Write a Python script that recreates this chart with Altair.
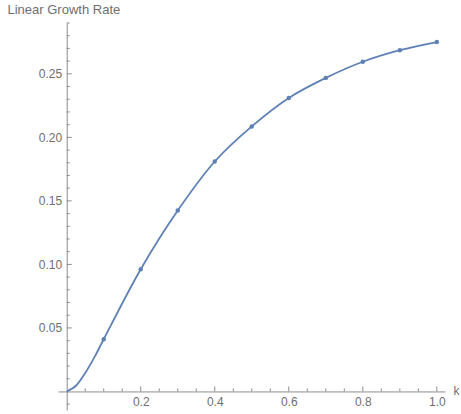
import altair as alt
import pandas as pd

# Sampled growth rates
k_pts = [0.1, 0.2, 0.3, 0.4, 0.5, 0.6, 0.7, 0.8, 0.9, 1.0]
rate_pts = [0.0411, 0.0962, 0.1424, 0.1810, 0.2086, 0.2310, 0.2468, 0.2595, 0.2686, 0.2750]

# Smooth curve through the samples (with extra readings near the origin)
k_curve = [0.0, 0.025, 0.05, 0.075] + k_pts
rate_curve = [0.0, 0.0045, 0.0145, 0.027] + rate_pts

# Axis ticks and labels
x_major = [0.2, 0.4, 0.6, 0.8, 1.0]
x_minor = [0.05, 0.1, 0.15, 0.25, 0.3, 0.35, 0.45, 0.5, 0.55, 0.65, 0.7, 0.75, 0.85, 0.9, 0.95]
y_major = [0.05, 0.10, 0.15, 0.20, 0.25]
y_minor = [-0.01, 0.01, 0.02, 0.03, 0.04, 0.06, 0.07, 0.08, 0.09, 0.11, 0.12, 0.13, 0.14,
           0.16, 0.17, 0.18, 0.19, 0.21, 0.22, 0.23, 0.24, 0.26, 0.27, 0.28, 0.29]

X_DOMAIN = [-0.0235, 1.022]
Y_DOMAIN = [-0.0146, 0.290]
W, H = 387, 387

BLUE = "#5e81b5"
AXIS = "#8c8c8c"
TEXT = "#6e6e6e"
FONT = "Liberation Sans"

# Place the axes so they cross at the origin
x_off = -H * (0 - Y_DOMAIN[0]) / (Y_DOMAIN[1] - Y_DOMAIN[0])
y_off = -W * (0 - X_DOMAIN[0]) / (X_DOMAIN[1] - X_DOMAIN[0])

pts = pd.DataFrame({"k": k_pts, "rate": rate_pts})
curve = pd.DataFrame({"k": k_curve, "rate": rate_curve})

xscale = alt.Scale(domain=X_DOMAIN, nice=False, zero=False)
yscale = alt.Scale(domain=Y_DOMAIN, nice=False, zero=False)

x_axis = alt.Axis(
    orient="bottom", offset=x_off, values=x_major, format=".1f",
    ticks=False, grid=False, domainColor=AXIS, domainWidth=1,
    labelColor=TEXT, labelFont=FONT, labelFontSize=12, labelPadding=5,
    title="k", titleX=453 - 58, titleY=-1, titleAlign="left",
    titleBaseline="middle", titleFont=FONT, titleFontSize=12,
    titleFontWeight="normal", titleColor=TEXT,
)
y_axis = alt.Axis(
    orient="left", offset=y_off, values=y_major, format=".2f",
    ticks=False, grid=False, domainColor=AXIS, domainWidth=1,
    labelColor=TEXT, labelFont=FONT, labelFontSize=12, labelPadding=5,
    title="Linear Growth Rate", titleAngle=0, titleAlign="left",
    titleBaseline="alphabetic", titleX=7 - 58 + y_off, titleY=-10,
    titleFont=FONT, titleFontSize=13, titleFontWeight="normal", titleColor=TEXT,
)

line = alt.Chart(curve).mark_line(color=BLUE, strokeWidth=1.8, interpolate="catmull-rom").encode(
    x=alt.X("k:Q", scale=xscale, axis=x_axis),
    y=alt.Y("rate:Q", scale=yscale, axis=y_axis),
)
dots = alt.Chart(pts).mark_circle(color=BLUE, size=20, opacity=1).encode(
    x=alt.X("k:Q", scale=xscale),
    y=alt.Y("rate:Q", scale=yscale),
)

def xticks(values, length):
    df = pd.DataFrame({"k": values})
    return alt.Chart(df).mark_rule(color=AXIS, strokeWidth=1, y2Offset=-length).encode(
        x=alt.X("k:Q", scale=xscale),
        y=alt.datum(0, scale=yscale),
        y2=alt.datum(0),
    )

def yticks(values, length):
    df = pd.DataFrame({"rate": values})
    return alt.Chart(df).mark_rule(color=AXIS, strokeWidth=1, x2Offset=length).encode(
        y=alt.Y("rate:Q", scale=yscale),
        x=alt.datum(0, scale=xscale),
        x2=alt.datum(0),
    )

chart = alt.layer(
    xticks(x_major, 5), xticks(x_minor, 3),
    yticks(y_major, 5), yticks(y_minor, 3),
    line, dots,
).properties(
    width=W, height=H,
    autosize=alt.AutoSizeParams(type="none"),
    padding={"left": 58, "top": 23, "right": 16, "bottom": 4},
    background="white",
).configure_view(stroke=None)

chart.save("out.html", embed_options={"renderer": "svg", "actions": False})
